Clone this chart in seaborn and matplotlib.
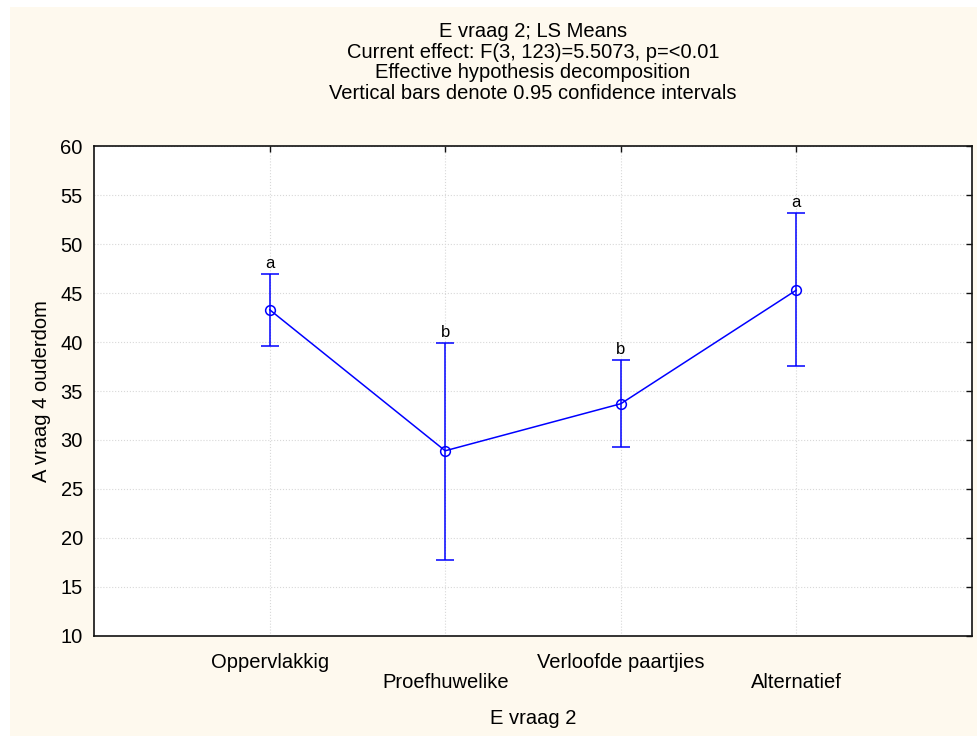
import matplotlib
matplotlib.use("Agg")
import matplotlib.pyplot as plt
import pandas as pd
import seaborn as sns
from matplotlib.patches import Rectangle

# Datos
categorias = ["Oppervlakkig", "Proefhuwelike", "Verloofde paartjies", "Alternatief"]
medias = [43.3, 28.9, 33.7, 45.3]
ic_inferior = [39.6, 17.8, 29.3, 37.6]
ic_superior = [46.9, 39.9, 38.2, 53.2]
letras = ["a", "b", "b", "a"]

titulo = ("E vraag 2; LS Means\n"
          "Current effect: F(3, 123)=5.5073, p=<0.01\n"
          "Effective hypothesis decomposition\n"
          "Vertical bars denote 0.95 confidence intervals")

sns.set_style("white")
plt.rcParams["font.family"] = ["Liberation Sans", "DejaVu Sans"]
plt.rcParams["text.color"] = "black"
plt.rcParams["axes.labelcolor"] = "black"
plt.rcParams["xtick.color"] = "black"
plt.rcParams["ytick.color"] = "black"

azul = "#0000FF"
fondo = "#FEF9EE"
fs = 14.5

df = pd.DataFrame({"pos": range(1, len(categorias) + 1), "media": medias})

fig = plt.figure(figsize=(9.78, 7.36), dpi=100, facecolor="white")
# Fondo crema con un pequeño margen blanco arriba y a la izquierda
fig.patches.append(Rectangle((10 / 978, 0), 1, 1 - 7 / 736, transform=fig.transFigure,
                             facecolor=fondo, edgecolor="none", zorder=-10))

ax = fig.add_axes([0.0961, 0.1359, 0.8978, 0.6657])
ax.set_facecolor("white")

# Barras de error (intervalos de confianza)
err_bajo = [m - lo for m, lo in zip(medias, ic_inferior)]
err_alto = [hi - m for m, hi in zip(medias, ic_superior)]
ax.errorbar(df["pos"], df["media"], yerr=[err_bajo, err_alto], fmt="none",
            ecolor=azul, elinewidth=1.1, capsize=6.5, capthick=1.1, zorder=3)

# Línea de medias
sns.lineplot(data=df, x="pos", y="media", ax=ax, color=azul, linewidth=1.1,
             marker="o", markersize=7, markerfacecolor="none",
             markeredgecolor=azul, markeredgewidth=1.1, zorder=4)

# Letras de significancia
for x, hi, letra in zip(df["pos"], ic_superior, letras):
    ax.text(x, hi + 0.3, letra, ha="center", va="bottom", fontsize=12)

ax.set_xlim(0, len(categorias) + 1)
ax.set_ylim(10, 60)
ax.set_yticks(range(10, 61, 5))
ax.set_xticks(df["pos"])
etiquetas = [c if i % 2 == 0 else "\n" + c for i, c in enumerate(categorias)]
ax.set_xticklabels(etiquetas)
for lab in ax.get_xticklabels():
    lab.set_linespacing(1.1)

ax.grid(True, axis="both", linestyle=":", color="#D8D8D8", linewidth=0.8)
ax.tick_params(axis="both", direction="in", length=4, width=1,
               top=True, right=True, labelsize=fs, color="#111111")
ax.tick_params(axis="x", pad=12)
ax.tick_params(axis="y", pad=8)

for sp in ax.spines.values():
    sp.set_color("#111111")
    sp.set_linewidth(1.2)

ax.set_xlabel("E vraag 2", fontsize=fs, labelpad=12)
ax.set_ylabel("A vraag 4 ouderdom", fontsize=fs, labelpad=7)
ax.set_title(titulo, fontsize=fs, linespacing=1.1, pad=34)

fig.savefig("out.png", dpi=100, facecolor="white")
